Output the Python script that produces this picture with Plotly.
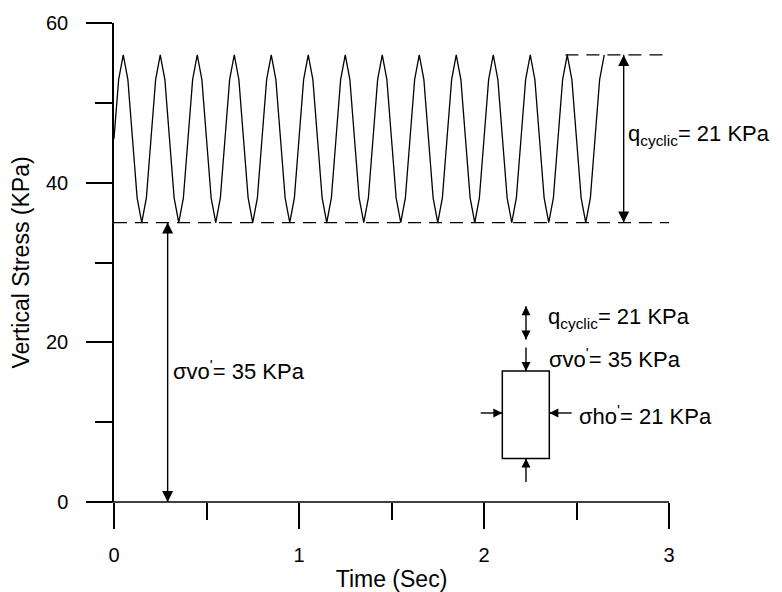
import plotly.graph_objects as go

# ---- data ----
time_s = [
    0.0, 0.025, 0.05, 0.075, 0.1, 0.125, 0.15, 0.175,
    0.2, 0.225, 0.25, 0.275, 0.3, 0.325, 0.35, 0.375,
    0.4, 0.425, 0.45, 0.475, 0.5, 0.525, 0.55, 0.575,
    0.6, 0.625, 0.65, 0.675, 0.7, 0.725, 0.75, 0.775,
    0.8, 0.825, 0.85, 0.875, 0.9, 0.925, 0.95, 0.975,
    1.0, 1.025, 1.05, 1.075, 1.1, 1.125, 1.15, 1.175,
    1.2, 1.225, 1.25, 1.275, 1.3, 1.325, 1.35, 1.375,
    1.4, 1.425, 1.45, 1.475, 1.5, 1.525, 1.55, 1.575,
    1.6, 1.625, 1.65, 1.675, 1.7, 1.725, 1.75, 1.775,
    1.8, 1.825, 1.85, 1.875, 1.9, 1.925, 1.95, 1.975,
    2.0, 2.025, 2.05, 2.075, 2.1, 2.125, 2.15, 2.175,
    2.2, 2.225, 2.25, 2.275, 2.3, 2.325, 2.35, 2.375,
    2.4, 2.425, 2.45, 2.475, 2.5, 2.525, 2.55, 2.575,
    2.6, 2.625, 2.65,
]
vertical_stress = [
    45.5, 52.9, 56, 52.9, 45.5, 38.1, 35, 38.1,
    45.5, 52.9, 56, 52.9, 45.5, 38.1, 35, 38.1,
    45.5, 52.9, 56, 52.9, 45.5, 38.1, 35, 38.1,
    45.5, 52.9, 56, 52.9, 45.5, 38.1, 35, 38.1,
    45.5, 52.9, 56, 52.9, 45.5, 38.1, 35, 38.1,
    45.5, 52.9, 56, 52.9, 45.5, 38.1, 35, 38.1,
    45.5, 52.9, 56, 52.9, 45.5, 38.1, 35, 38.1,
    45.5, 52.9, 56, 52.9, 45.5, 38.1, 35, 38.1,
    45.5, 52.9, 56, 52.9, 45.5, 38.1, 35, 38.1,
    45.5, 52.9, 56, 52.9, 45.5, 38.1, 35, 38.1,
    45.5, 52.9, 56, 52.9, 45.5, 38.1, 35, 38.1,
    45.5, 52.9, 56, 52.9, 45.5, 38.1, 35, 38.1,
    45.5, 52.9, 56, 52.9, 45.5, 38.1, 35, 38.1,
    45.5, 52.9, 56,
]
sigma_vo = 35      # KPa, static vertical effective stress
q_cyclic = 21      # KPa, cyclic amplitude (peak-to-trough)
stress_max = sigma_vo + q_cyclic
sigma_ho = 21      # KPa

x_major = [0, 1, 2, 3]
x_minor = [0.5, 1.5, 2.5]
y_major = [0, 20, 40, 60]
y_minor = [10, 30, 50]

FONT = "Liberation Sans, Arial, sans-serif"
BLACK = "black"
ANN_SIZE = 22

fig = go.Figure()
fig.add_trace(go.Scatter(
    x=time_s, y=vertical_stress, mode="lines",
    line=dict(color=BLACK, width=1.3), showlegend=False, hoverinfo="skip",
))


def add_arrow(x0, y0, x1, y1, head_end=True, head_start=False, size=11):
    """Line from (x0,y0) to (x1,y1) with arrow-marker tips at the chosen ends."""
    fig.add_trace(go.Scatter(
        x=[x0, x1], y=[y0, y1], mode="lines",
        line=dict(color=BLACK, width=1.4), showlegend=False,
        hoverinfo="skip", cliponaxis=False,
    ))

    def sym(xa, ya, xb, yb):
        # direction pointing from a to b
        if xa == xb:
            return "arrow-up" if yb > ya else "arrow-down"
        return "arrow-right" if xb > xa else "arrow-left"

    xs, ys, ss = [], [], []
    if head_end:
        xs.append(x1); ys.append(y1); ss.append(sym(x0, y0, x1, y1))
    if head_start:
        xs.append(x0); ys.append(y0); ss.append(sym(x1, y1, x0, y0))
    fig.add_trace(go.Scatter(
        x=xs, y=ys, mode="markers",
        marker=dict(symbol=ss, size=size, color=BLACK, line=dict(width=0)),
        showlegend=False, hoverinfo="skip", cliponaxis=False,
    ))


# main double arrows
add_arrow(0.29, sigma_vo, 0.29, 0, head_end=True, head_start=True, size=11)
add_arrow(2.755, sigma_vo, 2.755, stress_max, head_end=True, head_start=True, size=11)
# inset diagram arrows
add_arrow(2.227, 20.35, 2.227, 24.52, head_end=True, head_start=True, size=9)
add_arrow(2.227, 19.35, 2.227, 16.42, size=9)
add_arrow(2.227, 2.5, 2.227, 5.44, size=9)
add_arrow(1.982, 11.15, 2.099, 11.15, size=9)
add_arrow(2.474, 11.15, 2.353, 11.15, size=9)

shapes = [
    # x-axis line, extended slightly left of the y axis
    dict(type="line", xref="paper", yref="paper", x0=-0.045, x1=1, y0=0, y1=0,
         line=dict(color=BLACK, width=1.5)),
    # dashed reference lines
    dict(type="line", xref="x", yref="y", x0=0, x1=3.01, y0=sigma_vo, y1=sigma_vo,
         line=dict(color=BLACK, width=1.3, dash="13px,8px")),
    dict(type="line", xref="x", yref="y", x0=2.44, x1=3.01, y0=stress_max, y1=stress_max,
         line=dict(color=BLACK, width=1.3, dash="13px,8px")),
    # inset soil element box
    dict(type="rect", xref="x", yref="y", x0=2.099, x1=2.353, y0=5.44, y1=16.42,
         line=dict(color=BLACK, width=1.5), fillcolor="rgba(0,0,0,0)"),
]


def label(x, y, text, size=ANN_SIZE):
    return dict(x=x, y=y, xref="x", yref="y", text=text, showarrow=False,
                xanchor="left", yanchor="middle",
                font=dict(family=FONT, size=size, color=BLACK))


annotations = [
    label(0.31, 16.5, "σvo<sup>'</sup>= %d KPa" % sigma_vo),
    label(2.77, 46.0, "q<sub>cyclic</sub>= %d KPa" % q_cyclic),
    label(2.335, 23.0, "q<sub>cyclic</sub>= %d KPa" % q_cyclic),
    label(2.338, 18.0, "σvo<sup>'</sup>= %d KPa" % sigma_vo),
    label(2.50, 10.9, "σho<sup>'</sup>= %d KPa" % sigma_ho),
]

axis_common = dict(
    showgrid=False, zeroline=False, automargin=False,
    ticks="outside", ticklen=26, tickwidth=1.5, tickcolor=BLACK,
    tickfont=dict(family=FONT, size=20, color=BLACK),
)

fig.update_layout(
    width=782, height=592,
    margin=dict(l=114, r=113, t=23, b=90),
    paper_bgcolor="white", plot_bgcolor="white",
    font=dict(family=FONT, color=BLACK),
    shapes=shapes, annotations=annotations,
    xaxis=dict(
        range=[0, 3], tickmode="array", tickvals=x_major, showline=False,
        minor=dict(tickmode="array", tickvals=x_minor, ticks="outside", ticklen=17,
                   tickwidth=1.5, tickcolor=BLACK, showgrid=False),
        ticklabelstandoff=9,
        title=dict(text="Time (Sec)", font=dict(family=FONT, size=23, color=BLACK), standoff=10),
        **axis_common,
    ),
    yaxis=dict(
        range=[0, 60], tickmode="array", tickvals=y_major,
        showline=True, linecolor=BLACK, linewidth=1.5,
        minor=dict(tickmode="array", tickvals=y_minor, ticks="outside", ticklen=17,
                   tickwidth=1.5, tickcolor=BLACK, showgrid=False),
        ticklabelstandoff=14,
        title=dict(text="Vertical Stress (KPa)", font=dict(family=FONT, size=23, color=BLACK), standoff=10),
        **axis_common,
    ),
)

fig.write_html("out.html")
